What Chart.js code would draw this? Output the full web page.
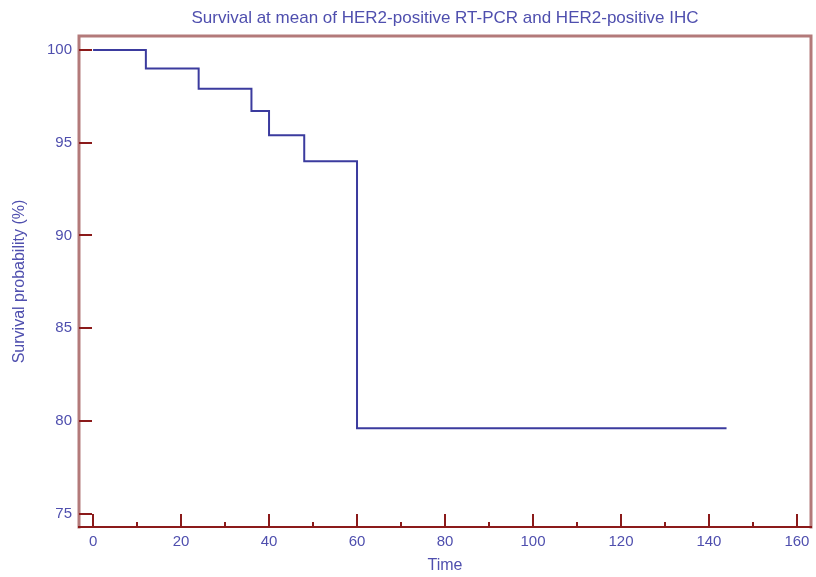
<!DOCTYPE html>
<html>
<head>
<meta charset="utf-8">
<title>Survival at mean</title>
<script src="https://cdn.jsdelivr.net/npm/chart.js@4"></script>
<style>
    html, body { margin: 0; padding: 0; background: #fff; }
    #wrap { width: 816px; height: 577px; }
</style>
</head>
<body>
<div id="wrap"><canvas id="survivalChart"></canvas></div>
<script>
// Kaplan-Meier estimate (months vs. % surviving)
const timePoints = [0, 12, 24, 36, 40, 48, 60, 144];
const survival = [100, 99.0, 97.9, 96.7, 95.4, 94.0, 79.6, 79.6];

const xTicks = [0, 20, 40, 60, 80, 100, 120, 140, 160];
const xMinorTicks = [10, 30, 50, 70, 90, 110, 130, 150];
const yTicks = [75, 80, 85, 90, 95, 100];

const textColor = '#4f4fae';
const frameColor = '#b37a7a';
const tickColor = '#8b1a1a';

// box round the plot plus the inward tick marks
const framePlugin = {
    id: 'frame',
    beforeDatasetsDraw(chart) {
        const ctx = chart.ctx;
        const area = chart.chartArea;
        const x = chart.scales.x;
        const y = chart.scales.y;

        ctx.save();
        ctx.lineCap = 'square';

        // left, top, right sides
        ctx.strokeStyle = frameColor;
        ctx.lineWidth = 3;
        ctx.beginPath();
        ctx.moveTo(area.left, area.bottom);
        ctx.lineTo(area.left, area.top);
        ctx.lineTo(area.right, area.top);
        ctx.lineTo(area.right, area.bottom);
        ctx.stroke();

        // bottom axis line
        ctx.strokeStyle = tickColor;
        ctx.lineWidth = 2;
        ctx.beginPath();
        ctx.moveTo(area.left, area.bottom);
        ctx.lineTo(area.right, area.bottom);
        ctx.stroke();

        ctx.lineCap = 'butt';
        ctx.lineWidth = 2;
        ctx.beginPath();
        xTicks.forEach(function (v) {
            const px = Math.round(x.getPixelForValue(v));
            ctx.moveTo(px, area.bottom);
            ctx.lineTo(px, area.bottom - 13);
        });
        xMinorTicks.forEach(function (v) {
            const px = Math.round(x.getPixelForValue(v));
            ctx.moveTo(px, area.bottom);
            ctx.lineTo(px, area.bottom - 5);
        });
        yTicks.forEach(function (v) {
            const py = Math.round(y.getPixelForValue(v));
            ctx.moveTo(area.left, py);
            ctx.lineTo(area.left + 13, py);
        });
        ctx.stroke();
        ctx.restore();
    }
};

const ctx = document.getElementById('survivalChart');
new Chart(ctx, {
    type: 'line',
    data: {
        datasets: [{
            data: timePoints.map(function (t, i) { return { x: t, y: survival[i] }; }),
            borderColor: '#3b3b9e',
            borderWidth: 2,
            stepped: 'before',
            pointRadius: 0,
            fill: false
        }]
    },
    options: {
        responsive: true,
        maintainAspectRatio: false,
        animation: false,
        layout: { padding: { left: 0, right: 5, top: 0, bottom: 0 } },
        plugins: {
            legend: { display: false },
            tooltip: { enabled: false }
        },
        scales: {
            x: {
                type: 'linear',
                min: -3.2,
                max: 163.2,
                afterBuildTicks: function (scale) {
                    scale.ticks = xTicks.map(function (v) { return { value: v }; });
                },
                afterFit: function (scale) { scale.height = 50; },
                grid: { display: false, drawTicks: false },
                border: { display: false },
                ticks: {
                    color: textColor,
                    padding: 6,
                    autoSkip: false,
                    maxRotation: 0,
                    font: { family: 'Liberation Sans', size: 15 }
                },
                title: {
                    display: true,
                    text: 'Time',
                    color: textColor,
                    font: { family: 'Liberation Sans', size: 16 },
                    padding: { top: 0, bottom: 2 }
                }
            },
            // top axis only carries the heading, centred over the plot
            xTop: {
                type: 'linear',
                position: 'top',
                min: -3.2,
                max: 163.2,
                afterFit: function (scale) { scale.height = 36; },
                grid: { display: false, drawTicks: false },
                border: { display: false },
                ticks: { display: false },
                title: {
                    display: true,
                    text: 'Survival at mean of HER2-positive RT-PCR and HER2-positive IHC',
                    color: textColor,
                    font: { family: 'Liberation Sans', size: 17 },
                    padding: { top: 8, bottom: 0 }
                }
            },
            y: {
                min: 74.28,
                max: 100.75,
                afterBuildTicks: function (scale) {
                    scale.ticks = yTicks.map(function (v) { return { value: v }; });
                },
                afterFit: function (scale) { scale.width = 79; },
                grid: { display: false, drawTicks: false },
                border: { display: false },
                ticks: {
                    color: textColor,
                    padding: 7,
                    autoSkip: false,
                    font: { family: 'Liberation Sans', size: 15 }
                },
                title: {
                    display: true,
                    text: 'Survival probability (%)',
                    color: textColor,
                    font: { family: 'Liberation Sans', size: 16 },
                    padding: { top: 10, bottom: 0 }
                }
            }
        }
    },
    plugins: [framePlugin]
});
</script>
</body>
</html>
